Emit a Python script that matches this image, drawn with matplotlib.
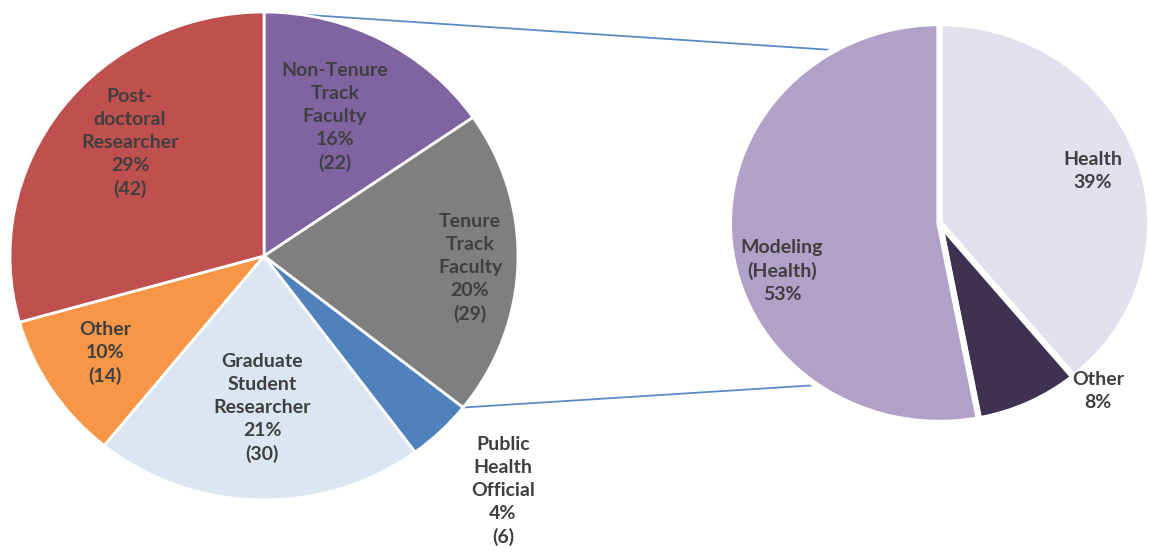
import numpy as np
import matplotlib
matplotlib.use("Agg")
import matplotlib.pyplot as plt
from matplotlib.lines import Line2D

# ---------------- data ----------------
left_labels = ["Non-Tenure\nTrack\nFaculty", "Tenure\nTrack\nFaculty", "Public\nHealth\nOfficial",
               "Graduate\nStudent\nResearcher", "Other", "Post-\ndoctoral\nResearcher"]
left_counts = [22, 29, 6, 30, 14, 42]
left_pcts = [16, 20, 4, 21, 10, 29]
left_colors = ["#8064A2", "#7F7F7F", "#4F81BD", "#DCE6F2", "#F79646", "#C0504D"]

right_labels = ["Health", "Other", "Modeling\n(Health)"]
right_pcts = [39, 8, 53]
right_colors = ["#E4DFEC", "#3F3151", "#B1A0C7"]

# label positions (pixels from top-left) - styling only
left_label_pos = [(335, 117), (470, 268), (503, 491), (262, 408), (105, 353), (130, 143)]
right_label_pos = [(1093, 171), (1098, 391), (782, 271)]

W, H = 1149, 555
fig = plt.figure(figsize=(W / 100, H / 100), dpi=100)
fig.patch.set_facecolor("white")

def rect(cx, cy, rx, ry):
    return [(cx - rx) / W, 1 - (cy + ry) / H, 2 * rx / W, 2 * ry / H]

axL = fig.add_axes(rect(264, 256, 254, 244))
axR = fig.add_axes(rect(939.5, 223, 207.5, 197))

wl, _ = axL.pie(left_counts, colors=left_colors, startangle=90, counterclock=False,
                radius=1.0, wedgeprops=dict(edgecolor="white", linewidth=2))
wr, _ = axR.pie(right_pcts, colors=right_colors, startangle=90, counterclock=False,
                radius=1.015, wedgeprops=dict(edgecolor="white", linewidth=4.5))
for ax in (axL, axR):
    ax.set_aspect("auto")
    ax.set_xlim(-1.0, 1.0)
    ax.set_ylim(-1.0, 1.0)
    ax.set_axis_off()

txt_kw = dict(ha="center", va="center", fontsize=14, fontweight="bold",
              color="#3F3F3F", family=["Lato", "DejaVu Sans"], linespacing=1.42)
for lab, p, c, (x, y) in zip(left_labels, left_pcts, left_counts, left_label_pos):
    fig.text(x / W, 1 - y / H, f"{lab}\n{p}%\n({c})", **txt_kw)
for lab, p, (x, y) in zip(right_labels, right_pcts, right_label_pos):
    fig.text(x / W, 1 - y / H, f"{lab}\n{p}%", **txt_kw)

# connector lines: from left pie wedge boundaries to right pie
def to_fig(ax, pt):
    disp = ax.transData.transform(pt)
    return fig.transFigure.inverted().transform(disp)

total = sum(left_counts)
a_top = np.deg2rad(90)
a_bot = np.deg2rad(90 - 360 * (left_counts[0] + left_counts[1]) / total)
p1 = to_fig(axL, (np.cos(a_top), np.sin(a_top)))
p2 = to_fig(axL, (np.cos(a_bot), np.sin(a_bot)))
q1 = to_fig(axR, (0.97 * np.cos(np.deg2rad(116)), 0.97 * np.sin(np.deg2rad(116))))
q2 = to_fig(axR, (0.97 * np.cos(np.deg2rad(-122.5)), 0.97 * np.sin(np.deg2rad(-122.5))))
for a, b in ((p1, q1), (p2, q2)):
    fig.add_artist(Line2D([a[0], b[0]], [a[1], b[1]], transform=fig.transFigure,
                          color="#5B8BC4", linewidth=1.3, zorder=0))

fig.savefig("out.png", dpi=100, facecolor="white")
